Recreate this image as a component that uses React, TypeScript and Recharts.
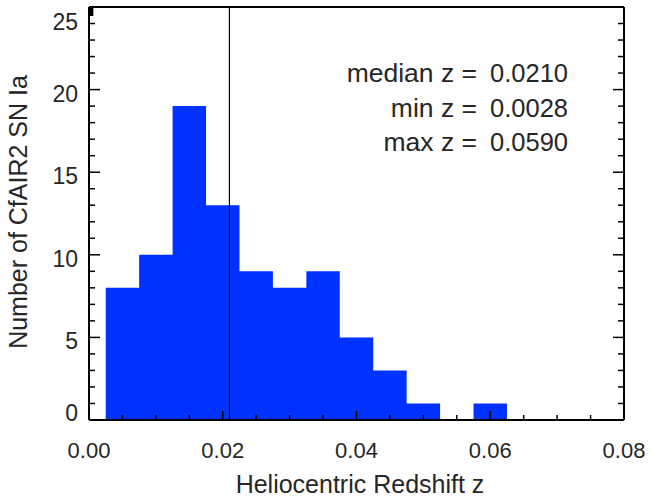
import React from "react";
import {
  ComposedChart,
  Area,
  XAxis,
  YAxis,
  ReferenceLine,
} from "recharts";

// Histogram bin edges (left edges) and counts
const binEdges = [
  0.0025, 0.0075, 0.0125, 0.0175, 0.0225, 0.0275, 0.0325, 0.0375, 0.0425,
  0.0475, 0.0525, 0.0575, 0.0625,
];
const binCounts = [8, 10, 19, 13, 9, 8, 9, 5, 3, 1, 0, 1, 0];

const xMajorTicks = [0, 0.02, 0.04, 0.06, 0.08];
const xMinorTicks = [
  0.005, 0.01, 0.015, 0.025, 0.03, 0.035, 0.045, 0.05, 0.055, 0.065, 0.07,
  0.075,
];
const yMajorTicks = [0, 5, 10, 15, 20, 25];
const yMinorTicks = [1, 2, 3, 4, 6, 7, 8, 9, 11, 12, 13, 14, 16, 17, 18, 19, 21, 22, 23, 24];

const medianZ = 0.021;
const statLabels = ["median z =", "min z =", "max z ="];
const statValues = ["0.0210", "0.0028", "0.0590"];

const xTitle = "Heliocentric Redshift z";
const yTitle = "Number of CfAIR2 SN Ia";

const data = binEdges.map((z, i) => ({ z, n: binCounts[i] }));
const xAllTicks = [...xMajorTicks, ...xMinorTicks].sort((a, b) => a - b);
const yAllTicks = [...yMajorTicks, ...yMinorTicks].sort((a, b) => a - b);
const isXMajor = (v: number) => xMajorTicks.some((t) => Math.abs(t - v) < 1e-9);
const isYMajor = (v: number) => yMajorTicks.includes(v);

const FONT = "'Liberation Sans', Arial, Helvetica, sans-serif";
const TXT = "#262626";
const BLUE = "#0032ff";

const W = 651;
const H = 498;
const M = { top: 6, right: 26, bottom: 77, left: 88 };

const BottomTick = (p: any) => {
  const { x, y, payload } = p;
  const v = payload.value;
  const major = isXMajor(v);
  const y0 = y - 1;
  return (
    <g>
      <line x1={x} x2={x} y1={y0} y2={y0 - (major ? 8 : 4)} stroke="#000" strokeWidth={1.5} />
      {major && (
        <text x={x} y={y0 + 38.5} textAnchor="middle" fontSize={22} fill={TXT} fontFamily={FONT}>
          {Number(v).toFixed(2)}
        </text>
      )}
    </g>
  );
};
const TopTick = (p: any) => {
  const { x, y, payload } = p;
  const major = isXMajor(payload.value);
  const y0 = y + 1;
  return <line x1={x} x2={x} y1={y0} y2={y0 + (major ? 8 : 4)} stroke="#000" strokeWidth={1.5} />;
};
const LeftTick = (p: any) => {
  const { x, y, payload } = p;
  const v = payload.value;
  const major = isYMajor(v);
  const x0 = x + 1;
  const dy = v === 0 ? 0.5 : v === 25 ? 23 : 12;
  return (
    <g>
      <line x1={x0} x2={x0 + (major ? 10 : 5)} y1={y} y2={y} stroke="#000" strokeWidth={1.5} />
      {major && (
        <text x={x0 - 12} y={y + dy} textAnchor="end" fontSize={23} fill={TXT} fontFamily={FONT}>
          {v}
        </text>
      )}
    </g>
  );
};
const RightTick = (p: any) => {
  const { x, y, payload } = p;
  const major = isYMajor(payload.value);
  const x0 = x - 1;
  return <line x1={x0} x2={x0 - (major ? 10 : 5)} y1={y} y2={y} stroke="#000" strokeWidth={1.5} />;
};

const axisLine = { stroke: "#000", strokeWidth: 2 };

export default function App() {
  return (
    <div style={{ position: "absolute", left: 0, top: 0, width: W, height: H, background: "#fff" }}>
      <ComposedChart width={W} height={H} data={data} margin={M}>
        <XAxis
          xAxisId="b"
          dataKey="z"
          type="number"
          domain={[0, 0.08]}
          ticks={xAllTicks}
          orientation="bottom"
          height={1}
          tickSize={0}
          tickMargin={0}
          tickLine={false}
          axisLine={axisLine}
          tick={<BottomTick />}
          interval={0}
          allowDataOverflow
        />
        <XAxis
          xAxisId="t"
          type="number"
          domain={[0, 0.08]}
          ticks={xAllTicks}
          orientation="top"
          height={1}
          tickSize={0}
          tickMargin={0}
          tickLine={false}
          axisLine={axisLine}
          tick={<TopTick />}
          interval={0}
          allowDataOverflow
        />
        <YAxis
          yAxisId="l"
          type="number"
          domain={[0, 25]}
          ticks={yAllTicks}
          orientation="left"
          width={1}
          tickSize={0}
          tickMargin={0}
          tickLine={false}
          axisLine={axisLine}
          tick={<LeftTick />}
          interval={0}
          allowDataOverflow
        />
        <YAxis
          yAxisId="r"
          type="number"
          domain={[0, 25]}
          ticks={yAllTicks}
          orientation="right"
          width={1}
          tickSize={0}
          tickMargin={0}
          tickLine={false}
          axisLine={axisLine}
          tick={<RightTick />}
          interval={0}
          allowDataOverflow
        />
        <Area
          xAxisId="b"
          yAxisId="l"
          dataKey="n"
          type="stepAfter"
          fill={BLUE}
          fillOpacity={1}
          stroke="none"
          isAnimationActive={false}
          dot={false}
          activeDot={false}
        />
        <ReferenceLine xAxisId="b" yAxisId="l" x={medianZ} stroke="#000" strokeWidth={1.2} />
      </ComposedChart>
      <svg
        width={W}
        height={H}
        style={{ position: "absolute", left: 0, top: 0, pointerEvents: "none" }}
      >
        <text x={360} y={493} textAnchor="middle" fontSize={25} fill={TXT} fontFamily={FONT}>
          {xTitle}
        </text>
        <text
          transform={`translate(27, 212) rotate(-90)`}
          textAnchor="middle"
          fontSize={25}
          fill={TXT}
          fontFamily={FONT}
        >
          {yTitle}
        </text>
        {statLabels.map((s, i) => (
          <g key={s}>
            <text x={477} y={82 + i * 34.5} textAnchor="end" fontSize={26.5} fill={TXT} fontFamily={FONT}>
              {s}
            </text>
            <text x={568} y={82 + i * 34.5} textAnchor="end" fontSize={25.5} fill={TXT} fontFamily={FONT}>
              {statValues[i]}
            </text>
          </g>
        ))}
      </svg>
    </div>
  );
}
